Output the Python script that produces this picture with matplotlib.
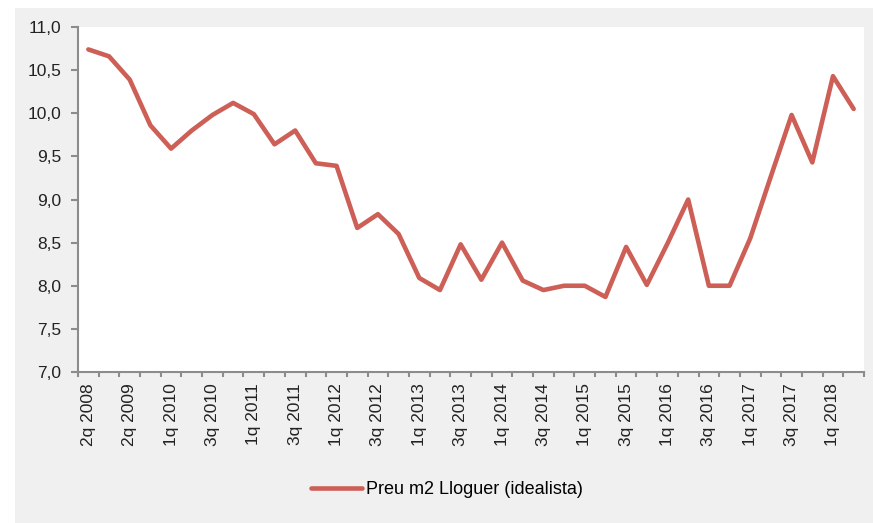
import matplotlib.pyplot as plt
from matplotlib.patches import Rectangle
from matplotlib.ticker import FixedLocator, FuncFormatter

plt.rcParams["font.family"] = ["Liberation Sans", "DejaVu Sans"]

quarters = ["2q 2008", "4q 2008", "2q 2009", "4q 2009"]
for yr in range(2010, 2018):
    quarters += [f"{q}q {yr}" for q in range(1, 5)]
quarters += ["1q 2018", "2q 2018"]

rent = [10.74, 10.66, 10.39, 9.86, 9.59, 9.80, 9.98, 10.12, 9.99, 9.64,
        9.80, 9.42, 9.39, 8.67, 8.83, 8.60, 8.09, 7.95, 8.48, 8.07,
        8.50, 8.06, 7.95, 8.00, 8.00, 7.87, 8.45, 8.01, 8.49, 9.00,
        8.00, 8.00, 8.55, 9.27, 9.98, 9.43, 10.43, 10.05]

W, H = 873, 523
fig = plt.figure(figsize=(W / 100, H / 100), dpi=100, facecolor="white")
fig.patches.append(Rectangle((15 / W, 0), 1 - 15 / W, 1 - 8 / H,
                             transform=fig.transFigure, facecolor="#f0f0f0",
                             edgecolor="none", zorder=-1))

ax = fig.add_axes([78 / W, (H - 372) / H, (864 - 78) / W, (372 - 27) / H])
ax.set_facecolor("white")

x = list(range(len(quarters)))
line, = ax.plot(x, rent, color="#cd5f57", lw=3.3, solid_joinstyle="round",
                solid_capstyle="round", label="Preu m2 Lloguer (idealista)")

ax.set_xlim(-0.5, len(quarters) - 0.5)
ax.set_ylim(7.0, 11.0)
ax.set_yticks([7.0 + 0.5 * i for i in range(9)])
ax.yaxis.set_major_formatter(FuncFormatter(lambda v, p: f"{v:.1f}".replace(".", ",")))

ax.set_xticks(x[::2])
ax.set_xticklabels(quarters[::2], rotation=90)
ax.xaxis.set_minor_locator(FixedLocator([i - 0.5 for i in range(len(quarters) + 1)]))
ax.tick_params(axis="x", which="major", length=0, pad=8, labelsize=12.5, colors="#222222")
ax.tick_params(axis="x", which="minor", length=3.5, width=1.5, color="#8c8c8c")
ax.tick_params(axis="y", length=5, width=1.5, color="#8c8c8c", labelsize=12.5,
               labelcolor="#222222", pad=7)

for s in ["top", "right"]:
    ax.spines[s].set_visible(False)
for s in ["left", "bottom"]:
    ax.spines[s].set_color("#8c8c8c")
    ax.spines[s].set_linewidth(1.5)

fig.legend(handles=[line], loc="center", bbox_to_anchor=(447 / W, 1 - 490 / H),
           frameon=False, fontsize=13, handlelength=2.8, handletextpad=0.2)

fig.savefig("out.png", dpi=100, facecolor=fig.get_facecolor())
